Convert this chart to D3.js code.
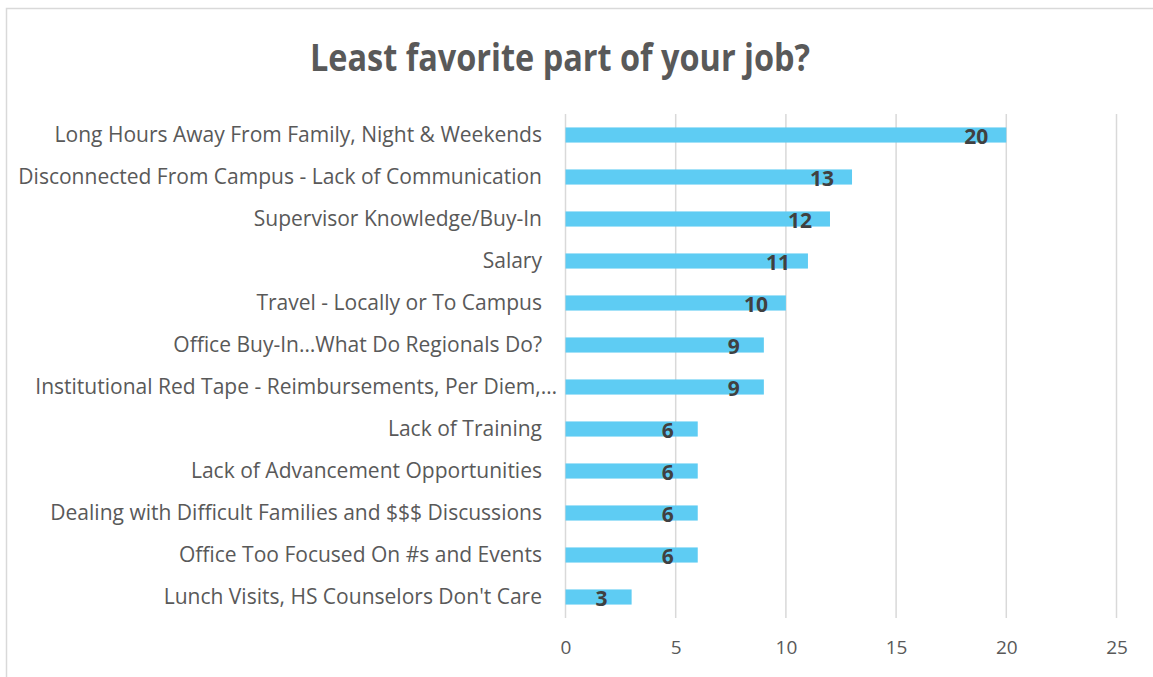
<!DOCTYPE html>
<html><head><meta charset="utf-8">
<script src="https://cdn.jsdelivr.net/npm/d3@7"></script>
<style>body{margin:0;background:#fff}svg{display:block}</style>
</head><body>
<svg id="chart" width="1153" height="677"></svg>
<script>
const title = "Least favorite part of your job?";
const categories = [
  "Long Hours Away From Family, Night & Weekends",
  "Disconnected From Campus - Lack of Communication",
  "Supervisor Knowledge/Buy-In",
  "Salary",
  "Travel - Locally or To Campus",
  "Office Buy-In…What Do Regionals Do?",
  "Institutional Red Tape - Reimbursements, Per Diem,…",
  "Lack of Training",
  "Lack of Advancement Opportunities",
  "Dealing with Difficult Families and $$$ Discussions",
  "Office Too Focused On #s and Events",
  "Lunch Visits, HS Counselors Don't Care"
];
const values = [20, 13, 12, 11, 10, 9, 9, 6, 6, 6, 6, 3];
const xTicks = [0, 5, 10, 15, 20, 25];

const svg = d3.select("#chart");
const font = "'Open Sans', sans-serif";

// outer border
svg.append("rect").attr("x", 6.5).attr("y", 8.5).attr("width", 1160).attr("height", 680)
  .attr("fill", "#fff").attr("stroke", "#d9d9d9").attr("stroke-width", 1.5);

const t = svg.append("text").attr("x", 560).attr("y", 71).attr("text-anchor", "middle")
  .attr("font-family", font).attr("font-weight", "bold").attr("font-size", 37)
  .attr("fill", "#595959").text(title);
t.attr("textLength", 500).attr("lengthAdjust", "spacingAndGlyphs");

const x = d3.scaleLinear().domain([0, 25]).range([565.5, 1116.5]);
const y = d3.scaleBand().domain(categories).range([114, 618]).paddingInner(0.64).paddingOuter(0.32);

// gridlines
svg.append("g").selectAll("line").data(xTicks).join("line")
  .attr("x1", d => x(d)).attr("x2", d => x(d)).attr("y1", 114).attr("y2", 618)
  .attr("stroke", "#d9d9d9").attr("stroke-width", 1.5);

// bars
svg.append("g").selectAll("rect").data(values).join("rect")
  .attr("x", x(0)).attr("y", (d, i) => y(categories[i]))
  .attr("width", d => x(d) - x(0)).attr("height", y.bandwidth())
  .attr("fill", "#5ECCF3");

// category labels
const labels = svg.append("g").selectAll("text").data(categories).join("text")
  .attr("x", (d, i) => d.endsWith("…") ? 557 : 542)
  .attr("y", d => y(d) + y.bandwidth() / 2 + 7)
  .attr("text-anchor", "end").attr("font-family", font).attr("font-size", 18)
  .attr("fill", "#595959").text(d => d);
// fit font size so the first label spans the same width as the reference
const w0 = labels.node().getComputedTextLength();
const fs = 18 * 488 / w0;
labels.attr("font-size", fs);

// value labels
svg.append("g").selectAll("text").data(values).join("text")
  .attr("x", d => x(d) - 30)
  .attr("y", (d, i) => y(categories[i]) + y.bandwidth() / 2 + 9)
  .attr("text-anchor", "middle").attr("font-family", font).attr("font-weight", "bold")
  .attr("font-size", 21).attr("fill", "#404040").text(d => d);

// x axis tick labels
const xAxis = d3.axisBottom(x).tickValues(xTicks).tickSize(0).tickPadding(0);
const ax = svg.append("g").attr("transform", "translate(0,640)").call(xAxis);
ax.select(".domain").remove();
ax.selectAll("text").attr("font-family", font).attr("font-size", 19).attr("fill", "#595959")
  .attr("dy", "0.71em");
</script>
</body></html>
